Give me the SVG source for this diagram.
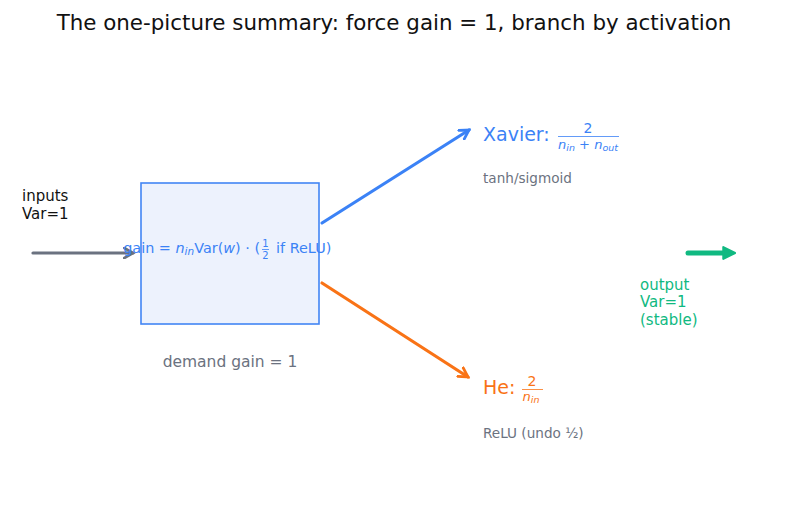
<svg xmlns="http://www.w3.org/2000/svg" width="787" height="508" viewBox="0 0 787 508">
<style>
text{font-family:"DejaVu Sans",sans-serif}
.title{font-size:21.4px;fill:#111}
.lbl{font-size:15px}
.small{font-size:13.6px;fill:#6b7280}
.it{font-style:italic}
.c{fill:none;stroke-linecap:round}
.bx{font-size:14.4px;fill:#3b82f6}
.fr{font-size:10px;fill:#3b82f6}
</style>
<defs>
<marker id="mg" viewBox="0 0 10 10" refX="8" refY="5" markerWidth="4" markerHeight="4" orient="auto" markerUnits="strokeWidth"><path d="M1,1 L8,5 L1,9" fill="none" stroke="#6b7280" stroke-width="2.2" stroke-linecap="round"/></marker>
<marker id="mb" viewBox="0 0 10 10" refX="8" refY="5" markerWidth="4" markerHeight="4" orient="auto" markerUnits="strokeWidth"><path d="M1,1 L8,5 L1,9" fill="none" stroke="#3b82f6" stroke-width="2.2" stroke-linecap="round"/></marker>
<marker id="mo" viewBox="0 0 10 10" refX="8" refY="5" markerWidth="4" markerHeight="4" orient="auto" markerUnits="strokeWidth"><path d="M1,1 L8,5 L1,9" fill="none" stroke="#f97316" stroke-width="2.2" stroke-linecap="round"/></marker>
<marker id="mgr" viewBox="0 0 10 10" refX="2" refY="5" markerWidth="2.8" markerHeight="2.8" orient="auto" markerUnits="strokeWidth"><path d="M0.8,0.8 L9.2,5 L0.8,9.2 Z" fill="#10b981" stroke="#10b981" stroke-width="1.5" stroke-linejoin="round"/></marker>
</defs>
<rect width="787" height="508" fill="#fff"/>
<text class="title" x="394" y="30" text-anchor="middle">The one-picture summary: force gain = 1, branch by activation</text>
<g id="connectors">
<line class="c" x1="33" y1="253" x2="133" y2="253" stroke="#6b7280" stroke-width="3.2" marker-end="url(#mg)"/>
<line class="c" x1="322" y1="223" x2="469" y2="130" stroke="#3b82f6" stroke-width="3.2" marker-end="url(#mb)"/>
<line class="c" x1="322" y1="283" x2="468" y2="377" stroke="#f97316" stroke-width="3.2" marker-end="url(#mo)"/>
<line class="c" x1="688" y1="253" x2="725" y2="253" stroke="#10b981" stroke-width="5" marker-end="url(#mgr)"/>
</g>
<g id="inputs">
<text class="lbl" x="22" y="201" fill="#111">inputs</text>
<text class="lbl" x="22" y="219" fill="#111">Var=1</text>
</g>
<g id="gain-box">
<rect x="141" y="183" width="178" height="141" fill="#edf2fd" stroke="#4285f4" stroke-width="1.6"/>
<text class="bx" x="260" y="253" text-anchor="end">gain = <tspan class="it">n</tspan><tspan class="it" font-size="10.5" dy="2">in</tspan><tspan dy="-2">Var(</tspan><tspan class="it">w</tspan>) · (</text>
<text class="fr" x="265.5" y="247" text-anchor="middle">1</text>
<text class="fr" x="265.5" y="258.5" text-anchor="middle">2</text>
<line x1="262" y1="249.5" x2="269" y2="249.5" stroke="#3b82f6" stroke-width="0.8"/>
<text class="bx" x="276" y="253">if ReLU)</text>
<text x="230" y="367" text-anchor="middle" font-size="15.5" fill="#6b7280">demand gain = 1</text>
</g>
<g id="xavier">
<text x="483" y="141" font-size="19" fill="#3b82f6">Xavier:</text>
<text x="588" y="133" font-size="14" fill="#3b82f6" text-anchor="middle">2</text>
<line x1="558" y1="136.5" x2="619" y2="136.5" stroke="#3b82f6" stroke-width="0.8"/>
<text x="588" y="149" font-size="13" fill="#3b82f6" text-anchor="middle"><tspan class="it">n</tspan><tspan class="it" font-size="9.5" dy="2">in</tspan><tspan dy="-2"> + </tspan><tspan class="it">n</tspan><tspan class="it" font-size="9.5" dy="2">out</tspan></text>
<text class="small" x="483" y="183">tanh/sigmoid</text>
</g>
<g id="he">
<text x="483" y="394" font-size="19" fill="#f97316">He:</text>
<text x="532" y="386" font-size="14" fill="#f97316" text-anchor="middle">2</text>
<line x1="522" y1="389.5" x2="543" y2="389.5" stroke="#f97316" stroke-width="0.8"/>
<text x="531" y="401" font-size="13" fill="#f97316" text-anchor="middle"><tspan class="it">n</tspan><tspan class="it" font-size="9.5" dy="2">in</tspan></text>
<text class="small" x="483" y="438">ReLU (undo ½)</text>
</g>
<g id="output">
<text class="lbl" x="640" y="290" fill="#10b981">output</text>
<text class="lbl" x="640" y="307" fill="#10b981">Var=1</text>
<text class="lbl" x="640" y="325" fill="#10b981">(stable)</text>
</g>
</svg>
